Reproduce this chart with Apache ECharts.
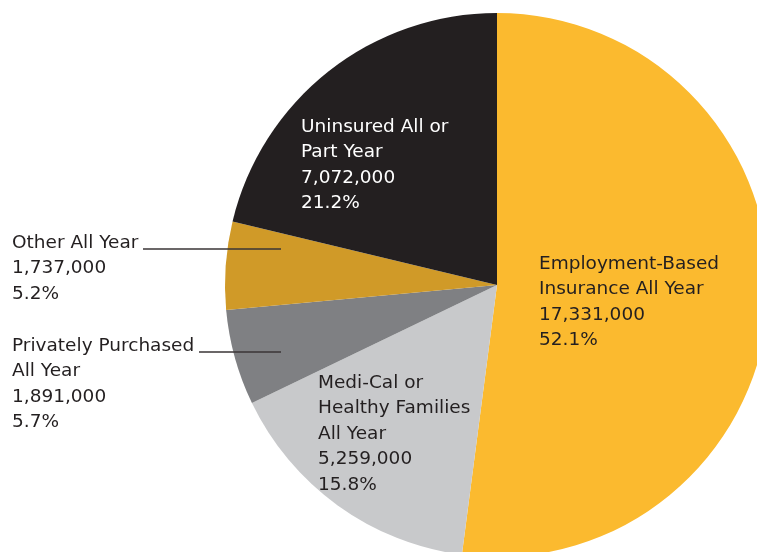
<!DOCTYPE html>
<html><head><meta charset="utf-8">
<script src="https://cdn.jsdelivr.net/npm/echarts@6/dist/echarts.min.js"></script>
<style>html,body{margin:0;padding:0;background:#fff}#c{width:757px;height:552px}</style>
</head><body><div id="c"></div>
<script>
const categories = ["Employment-Based\nInsurance All Year","Medi-Cal or\nHealthy Families\nAll Year","Privately Purchased\nAll Year","Other All Year","Uninsured All or\nPart Year"];
const values = [17331000, 5259000, 1891000, 1737000, 7072000];
const percents = ["52.1%","15.8%","5.7%","5.2%","21.2%"];
const colors = ["#FBBA2F","#C8C9CB","#7F8083","#D09A28","#231F20"];
const labelColors = ["#231F20","#231F20","#231F20","#231F20","#FFFFFF"];
// label anchor positions (top-left of label block)
const labelPos = [[539,251],[318,370],[12,333],[12,230],[301,114]];
// leader lines for outside labels: [x1,y1,x2,y2]
const leaders = [null,null,[199,352,281,352],[143,249,281,249],null];

const chart = echarts.init(document.getElementById('c'));
const fmt = v => v.toLocaleString('en-US');
chart.setOption({
  animation:false,
  series:[{
    type:'pie',
    center:[497,285],
    radius:272,
    startAngle:90,
    clockwise:true,
    data: categories.map((n,i)=>({name:n,value:values[i],itemStyle:{color:colors[i]},
      label:{color:labelColors[i]}})),
    label:{
      show:true,
      position:'inside',
      formatter: p => p.name + "\n" + fmt(values[p.dataIndex]) + "\n" + percents[p.dataIndex],
      fontFamily:'DejaVu Sans',
      fontSize:18.5,
      lineHeight:25.5,
      align:'left'
    },
    labelLine:{show:false},
    labelLayout: p => ({x:labelPos[p.dataIndex][0], y:labelPos[p.dataIndex][1], align:'left', verticalAlign:'top'})
  }],
  graphic: leaders.filter(l=>l).map(l=>({type:'line',shape:{x1:l[0],y1:l[1],x2:l[2],y2:l[3]},style:{stroke:'#3a3536',lineWidth:1.3},z:100}))
});
</script></body></html>
